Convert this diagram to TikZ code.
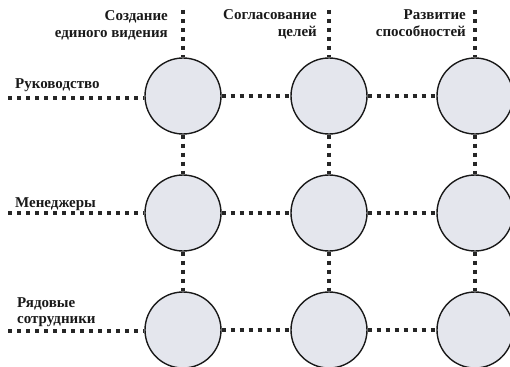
\documentclass[tikz,border=0pt]{standalone}
\usepackage{fontspec}
\setmainfont{Liberation Serif}
\definecolor{cellfill}{RGB}{228,230,237}
\begin{document}
\begin{tikzpicture}[x=1pt,y=-1pt,
  cell/.style={circle,draw=black!90,line width=1.4pt,fill=cellfill,minimum size=76pt,inner sep=0pt},
  dotline/.style={draw=black!85,line width=3.8pt,dash pattern=on 4pt off 5pt},
  vdotline/.style={draw=black!85,line width=3.2pt,dash pattern=on 4pt off 5pt},
  lbl/.style={font=\bfseries\fontsize{15}{17}\selectfont,inner sep=0pt,text=black!90}]
\useasboundingbox (0,0) rectangle (510,366);
\clip (0,0) rectangle (510,366);
% circles
\foreach \c/\x in {1/183,2/329,3/475}{
  \foreach \r/\y in {1/96,2/213,3/330}{
    \node[cell] (c\r\c) at (\x,\y) {};
  }
}
% free ends
\coordinate (t1) at (183,10);
\coordinate (t2) at (329,10);
\coordinate (t3) at (475,10);
\coordinate (l1) at (8,98);
\coordinate (l2) at (8,213);
\coordinate (l3) at (8,331);
% connectors
\foreach \c in {1,2,3}{
  \draw[vdotline] (t\c) -- (c1\c.north);
  \draw[vdotline] (c1\c.south) -- (c2\c.north);
  \draw[vdotline] (c2\c.south) -- (c3\c.north);
}
\foreach \r in {1,2,3}{
  \draw[dotline] (l\r) -- (l\r -| c\r1.west);
  \draw[dotline] (c\r1.east) -- (c\r2.west);
  \draw[dotline] (c\r2.east) -- (c\r3.west);
}
% column labels
\node[lbl,anchor=base east] (h1a) at (168,21) {Создание};
\node[lbl,anchor=base east] (h1b) at (168,38) {единого видения};
\node[lbl,anchor=base east] (h2a) at (317,20) {Согласование};
\node[lbl,anchor=base east] (h2b) at (317,37) {целей};
\node[lbl,anchor=base east] (h3a) at (466,20) {Развитие};
\node[lbl,anchor=base east] (h3b) at (466,37) {способностей};
% row labels
\node[lbl,anchor=base west] (r1) at (15,89) {Руководство};
\node[lbl,anchor=base west] (r2) at (15,207) {Менеджеры};
\node[lbl,anchor=base west] (r3a) at (17,307) {Рядовые};
\node[lbl,anchor=base west] (r3b) at (17,323) {сотрудники};
\end{tikzpicture}
\end{document}
